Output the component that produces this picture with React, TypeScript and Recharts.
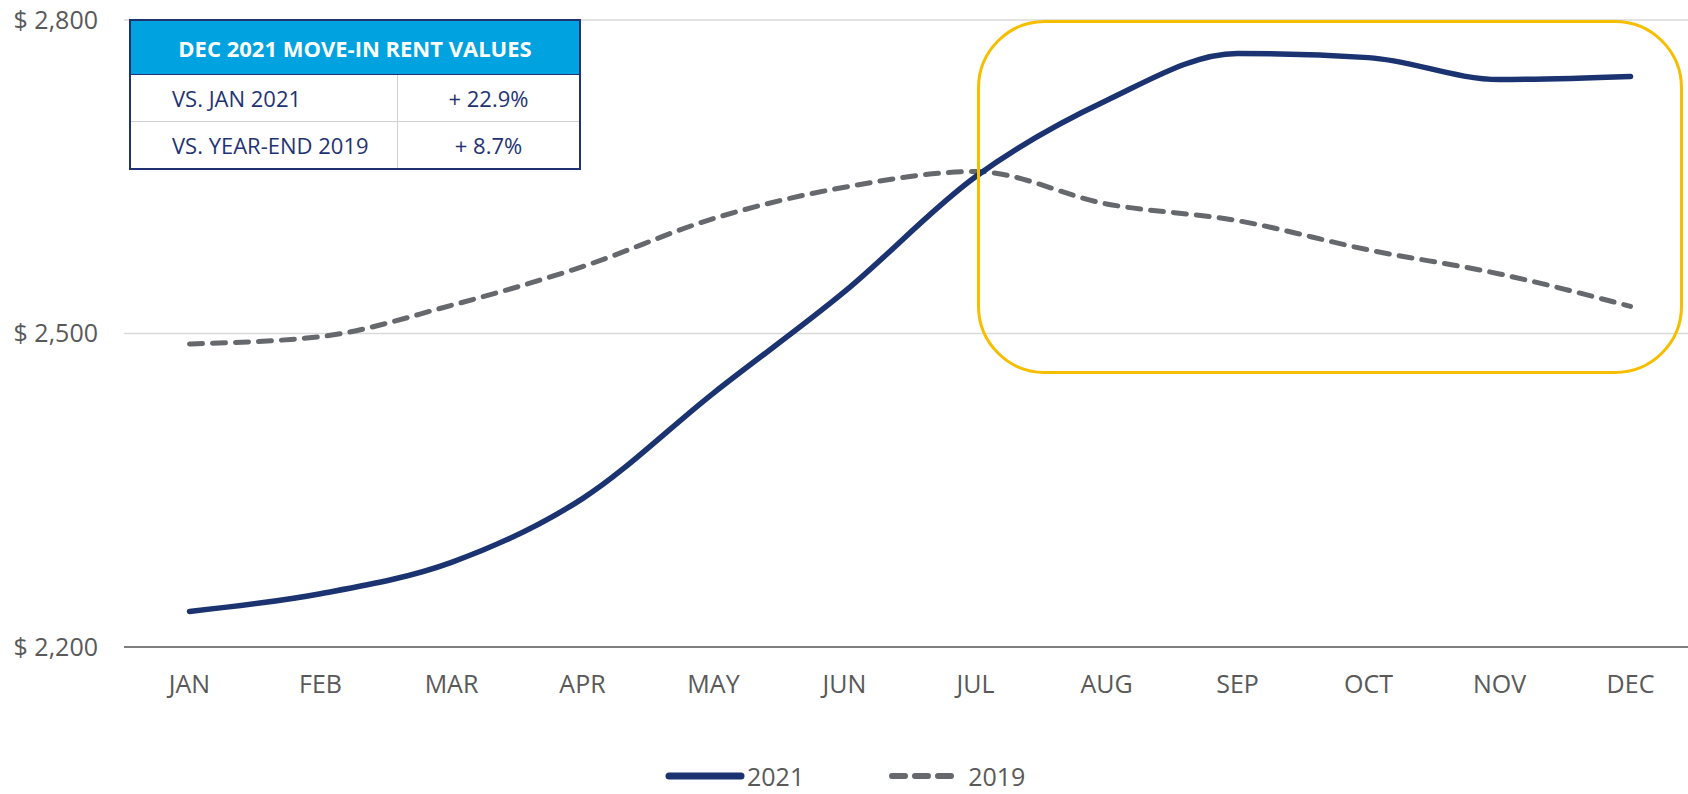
import React from 'react';
import { LineChart, Line, XAxis, YAxis, CartesianGrid } from 'recharts';

const months = ['JAN', 'FEB', 'MAR', 'APR', 'MAY', 'JUN', 'JUL', 'AUG', 'SEP', 'OCT', 'NOV', 'DEC'];
const rent2021 = [2234, 2251, 2281, 2342, 2443, 2540, 2650, 2723, 2768, 2764, 2743, 2746];
const rent2019 = [2490, 2497, 2527, 2564, 2610, 2640, 2655, 2624, 2608, 2580, 2557, 2526];
const yTicks = [2200, 2500, 2800];

const tableTitle = 'DEC 2021 MOVE-IN RENT VALUES';
const tableLabels = ['VS. JAN 2021', 'VS. YEAR-END 2019'];
const tableValues = ['+ 22.9%', '+ 8.7%'];

const data = months.map((m, i) => ({ month: m, y2021: rent2021[i], y2019: rent2019[i] }));

const FONT = '"Open Sans", sans-serif';
const NAVY = '#1B3370';
const GREY = '#65686C';
const TEXT = '#595959';

const fmt = (v: number) => `$ ${v.toLocaleString('en-US')}`;

const App: React.FC = () => {
  return (
    <div style={{ position: 'fixed', left: 0, top: 0, width: 1688, height: 794, overflow: 'hidden', background: '#fff', fontFamily: FONT }}>
      <style>{'html, body { margin: 0; overflow: hidden; }'}</style>
      <LineChart width={1700} height={794} data={data} margin={{ top: 20, right: 4, bottom: 117, left: 6 }}>
        <CartesianGrid vertical={false} stroke="#D9D9D9" strokeWidth={1.5} />
        <XAxis
          dataKey="month"
          interval={0}
          height={30}
          padding={{ left: 65.5, right: 65.5 }}
          tickLine={false}
          tickSize={0}
          tickMargin={28}
          axisLine={{ stroke: '#7F7F7F', strokeWidth: 2 }}
          tick={{ fill: TEXT, fontSize: 25, fontFamily: FONT }}
        />
        <YAxis
          width={118}
          domain={[2200, 2800]}
          ticks={yTicks}
          tickFormatter={fmt}
          axisLine={false}
          tickLine={false}
          tickSize={0}
          tickMargin={26}
          tick={{ fill: TEXT, fontSize: 25, fontFamily: FONT }}
        />
        <Line
          dataKey="y2019"
          name="2019"
          type="monotone"
          stroke={GREY}
          strokeWidth={5}
          strokeDasharray="13 10"
          strokeLinecap="round"
          dot={false}
          isAnimationActive={false}
        />
        <Line
          dataKey="y2021"
          name="2021"
          type="monotone"
          stroke={NAVY}
          strokeWidth={5.5}
          strokeLinecap="round"
          dot={false}
          isAnimationActive={false}
        />
      </LineChart>

      {/* highlight box around the second half of the year */}
      <div style={{ position: 'absolute', left: 977, top: 20, width: 706, height: 354, border: '3.5px solid #F7BE00', borderRadius: 68, boxSizing: 'border-box' }} />

      {/* summary table */}
      <div style={{ position: 'absolute', left: 129, top: 19, width: 452, border: '2px solid #1F3374', boxSizing: 'border-box', background: '#fff' }}>
        <div style={{ height: 53, background: '#00A3E0', color: '#fff', fontWeight: 700, fontSize: 22, display: 'flex', alignItems: 'center', justifyContent: 'center', borderBottom: '1px solid #1F3374' }}>
          {tableTitle}
        </div>
        {tableLabels.map((label, i) => (
          <div key={label} style={{ display: 'flex', height: 46, borderTop: i > 0 ? '1px solid #D0D0D0' : 'none', color: '#1F3374', fontSize: 22 }}>
            <div style={{ width: 267, paddingLeft: 41, boxSizing: 'border-box', display: 'flex', alignItems: 'center', borderRight: '1px solid #D0D0D0' }}>{label}</div>
            <div style={{ flex: 1, display: 'flex', alignItems: 'center', justifyContent: 'center' }}>{tableValues[i]}</div>
          </div>
        ))}
      </div>

      {/* legend */}
      <div style={{ position: 'absolute', left: 665, top: 763, height: 26, display: 'flex', alignItems: 'center', color: TEXT, fontSize: 25, lineHeight: '26px' }}>
        <svg width={80} height={12}>
          <line x1={4} y1={6} x2={76} y2={6} stroke={NAVY} strokeWidth={7} strokeLinecap="round" />
        </svg>
        <span style={{ marginLeft: 2 }}>2021</span>
        <svg width={70} height={12} style={{ marginLeft: 84 }}>
          <line x1={4} y1={6} x2={66} y2={6} stroke={GREY} strokeWidth={6} strokeDasharray="13 10" strokeLinecap="round" />
        </svg>
        <span style={{ marginLeft: 10 }}>2019</span>
      </div>
    </div>
  );
};

export default App;
